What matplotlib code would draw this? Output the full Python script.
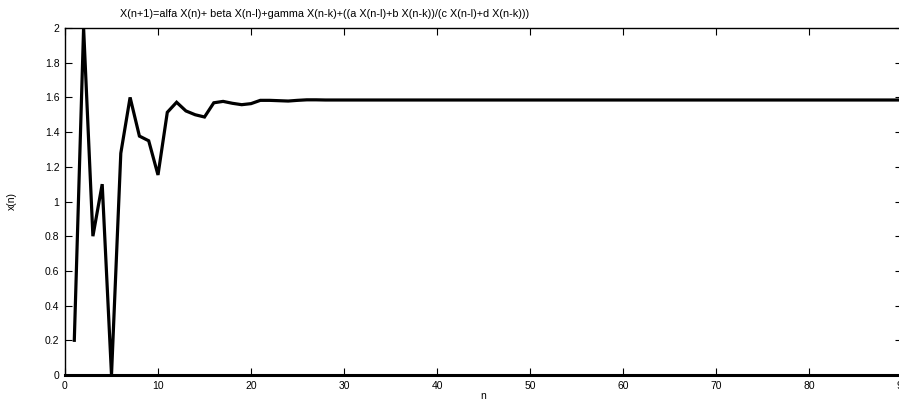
import matplotlib
matplotlib.use("Agg")
import matplotlib.pyplot as plt

plt.rcParams["font.family"] = ["Liberation Sans", "DejaVu Sans"]

# iterate values x(n) of the recurrence, n = 1..90
n_values = list(range(1, 91))
x_values = [
    0.20, 2.00, 0.80, 1.10, 0.00, 1.278, 1.60, 1.377, 1.35, 1.153,
    1.514, 1.572, 1.522, 1.500, 1.487, 1.569, 1.577, 1.566, 1.558, 1.564,
    1.583, 1.583, 1.581, 1.579, 1.583, 1.586, 1.586, 1.585, 1.585, 1.585,
    1.585, 1.585, 1.585, 1.585, 1.585, 1.585, 1.585, 1.585, 1.585, 1.585,
    1.585, 1.585, 1.585, 1.585, 1.585, 1.585, 1.585, 1.585, 1.585, 1.585,
    1.585, 1.585, 1.585, 1.585, 1.585, 1.585, 1.585, 1.585, 1.585, 1.585,
    1.585, 1.585, 1.585, 1.585, 1.585, 1.585, 1.585, 1.585, 1.585, 1.585,
    1.585, 1.585, 1.585, 1.585, 1.585, 1.585, 1.585, 1.585, 1.585, 1.585,
    1.585, 1.585, 1.585, 1.585, 1.585, 1.585, 1.585, 1.585, 1.585, 1.585,
]

x_ticks = list(range(0, 91, 10))
y_ticks = [0, 0.2, 0.4, 0.6, 0.8, 1, 1.2, 1.4, 1.6, 1.8, 2]
y_tick_labels = ["0", "0.2", "0.4", "0.6", "0.8", "1", "1.2", "1.4", "1.6", "1.8", "2"]

title = "X(n+1)=alfa X(n)+ beta X(n-l)+gamma X(n-k)+((a X(n-l)+b X(n-k))/(c X(n-l)+d X(n-k)))"

W, H = 899, 400
fig = plt.figure(figsize=(W / 100, H / 100), dpi=100)
left, right, top, bottom = 65, 902, 28, 375
ax = fig.add_axes([left / W, (H - bottom) / H, (right - left) / W, (bottom - top) / H])

ax.plot(n_values, x_values, color="black", linewidth=2.3, solid_joinstyle="miter")

ax.set_xlim(0, 90)
ax.set_ylim(0, 2)
ax.set_xticks(x_ticks)
ax.set_xticklabels([str(t) for t in x_ticks])
ax.set_yticks(y_ticks)
ax.set_yticklabels(y_tick_labels)
ax.tick_params(direction="in", length=5, width=0.8, labelsize=7.5,
               top=True, right=True, pad=4, colors="black")

for side in ("left", "top", "right"):
    ax.spines[side].set_linewidth(1.0)
ax.spines["bottom"].set_linewidth(2.2)

fig.text(325 / W, 1 - 14 / H, title, ha="center", va="center", fontsize=7.8)
fig.text(483 / W, 1 - 396 / H, "n", ha="center", va="center", fontsize=7.5)
fig.text(12 / W, 1 - 201 / H, "x(n)", ha="center", va="center", fontsize=7.5, rotation=90)

fig.savefig("out.png", dpi=100)
